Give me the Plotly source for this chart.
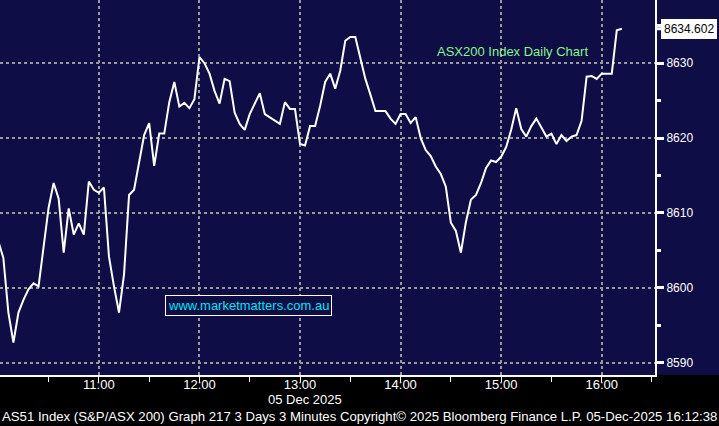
import pandas as pd
import plotly.graph_objects as go

# ASX200 3-minute closes, 05 Dec 2025, starting 10:00
start_time = "2025-12-05 10:00"
closes = [
    8606.2, 8604.0, 8596.7, 8592.7, 8596.7, 8598.4, 8599.8, 8600.6, 8600.2, 8605.5,
    8610.7, 8614.0, 8611.9, 8604.7, 8610.6, 8607.1, 8608.6, 8607.1, 8614.2, 8613.1,
    8612.7, 8613.4, 8604.2, 8600.2, 8596.7, 8601.8, 8612.4, 8613.1, 8616.7, 8620.4,
    8622.0, 8616.3, 8620.6, 8620.6, 8624.8, 8627.5, 8624.2, 8624.7, 8624.0, 8625.2,
    8630.8, 8630.0, 8628.6, 8626.3, 8624.6, 8627.9, 8627.6, 8623.4, 8621.9, 8621.1,
    8623.2, 8624.7, 8626.0, 8623.2, 8622.8, 8622.3, 8621.9, 8624.8, 8623.9, 8623.9,
    8619.2, 8619.0, 8621.6, 8621.6, 8624.3, 8627.5, 8628.6, 8626.6, 8629.0, 8633.0,
    8633.5, 8633.5, 8630.8, 8627.9, 8625.8, 8623.6, 8623.6, 8623.6, 8622.6, 8621.9,
    8623.2, 8623.2, 8622.0, 8622.8, 8620.0, 8618.4, 8617.6, 8616.2, 8615.2, 8613.5,
    8608.7, 8607.6, 8604.7, 8608.8, 8611.8, 8612.4, 8614.0, 8616.0, 8617.0, 8616.8,
    8617.5, 8618.8, 8621.1, 8624.0, 8621.2, 8620.2, 8621.6, 8622.6, 8621.4, 8620.2,
    8620.6, 8619.2, 8620.4, 8619.6, 8620.2, 8620.4, 8622.3, 8628.2, 8628.3, 8627.9,
    8628.6, 8628.6, 8628.6, 8634.4, 8634.602,
]
times = pd.date_range(start_time, periods=len(closes), freq="3min")

y_ticks = [8590, 8600, 8610, 8620, 8630]
last_label = "8634.602"
chart_title = "ASX200 Index Daily Chart"
website = "www.marketmatters.com.au"
date_label = "05 Dec 2025"
footer = ("AS51 Index (S&P/ASX 200) Graph 217 3 Days 3 Minutes "
          "Copyright\u00a9 2025 Bloomberg Finance L.P. 05-Dec-2025 16:12:38")

NAVY = "#0f0d45"
GRID = "#9a9a9a"
FONT = "Arial, Liberation Sans, sans-serif"

fig = go.Figure()
fig.add_trace(go.Scatter(
    x=times, y=closes, mode="lines",
    line=dict(color="white", width=2),
    hoverinfo="skip", showlegend=False,
))

# keep the right-hand margin navy like the plot area
fig.add_shape(type="rect", xref="paper", yref="paper",
              x0=1, x1=1.2, y0=0, y1=1, fillcolor=NAVY, line_width=0, layer="below")

fig.add_annotation(text=chart_title, xref="x", yref="y",
                   x="2025-12-05 15:07", y=8631.6, showarrow=False,
                   font=dict(family=FONT, size=13, color="#86f58c"))
fig.add_annotation(text=website, xref="x", yref="y",
                   x="2025-12-05 12:29", y=8597.6, showarrow=False,
                   font=dict(family=FONT, size=13, color="#00e4f2"),
                   bordercolor="white", borderwidth=1, borderpad=2, bgcolor=NAVY)
fig.add_annotation(text=last_label, xref="paper", yref="y",
                   x=1, y=closes[-1], xanchor="left", ax=6, ay=0,
                   showarrow=True, arrowhead=0, arrowwidth=3, arrowcolor="white",
                   font=dict(family=FONT, size=12, color="black"),
                   bgcolor="white", bordercolor="white", borderpad=2)
fig.add_annotation(text=date_label, xref="x", yref="paper",
                   x="2025-12-05 13:03", y=-0.066, yanchor="middle", showarrow=False,
                   font=dict(family=FONT, size=13, color="white"))
fig.add_annotation(text=footer, xref="paper", yref="paper",
                   x=0.0, y=-0.111, xanchor="left", yanchor="middle", showarrow=False,
                   font=dict(family=FONT, size=13.2, color="white"))

fig.update_layout(
    width=719, height=426,
    margin=dict(l=0, r=64, t=0, b=51),
    paper_bgcolor="black", plot_bgcolor=NAVY,
    showlegend=False,
    xaxis=dict(
        range=["2025-12-05 10:01", "2025-12-05 16:31:48"],
        dtick=3600000, tickformat="%H:%M", automargin=False,
        showgrid=True, gridcolor=GRID, griddash="dot", gridwidth=2,
        showline=True, linecolor="white", linewidth=2,
        ticks="outside", ticklen=5, tickcolor="white", tickwidth=1,
        minor=dict(dtick=1800000, ticks="outside", ticklen=5, tickcolor="white", showgrid=False),
        tickfont=dict(family=FONT, size=13, color="white"),
        ticklabelstandoff=-9,
        zeroline=False,
    ),
    yaxis=dict(
        side="right", range=[8588.36, 8638.44], automargin=False,
        tickvals=y_ticks,
        showgrid=True, gridcolor=GRID, griddash="dot", gridwidth=2,
        showline=True, linecolor="white", linewidth=2,
        ticks="outside", ticklen=7, tickcolor="white", tickwidth=3,
        minor=dict(dtick=5, ticks="outside", ticklen=4, tickcolor="white", showgrid=False),
        tickfont=dict(family=FONT, size=12, color="white"),
        zeroline=False,
    ),
)

fig.write_html("out.html", config={"displayModeBar": False},
               post_script="document.body.style.margin='0';")
